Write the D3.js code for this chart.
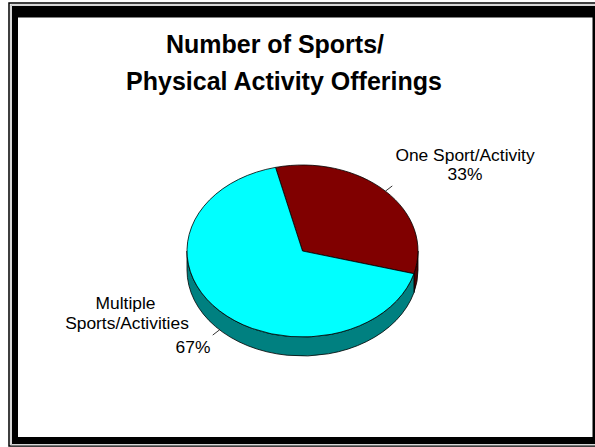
<!DOCTYPE html>
<html>
<head>
<meta charset="utf-8">
<script src="https://cdn.jsdelivr.net/npm/d3@7"></script>
<style>
  html, body { margin: 0; padding: 0; background: #fff; }
  svg { display: block; }
  text { font-family: "Liberation Sans", Arial, Helvetica, sans-serif; fill: #000; }
</style>
</head>
<body>
<script>
// Survey result: how many sports / physical activities are offered
const categories = ["One Sport/Activity", "Multiple Sports/Activities"];
const values = [33, 67];
const percentLabels = ["33%", "67%"];
const titleLines = ["Number of Sports/", "Physical Activity Offerings"];

const W = 595, H = 447;
const svg = d3.select("body").append("svg").attr("width", W).attr("height", H);

// Framed panel: thin outer rule, light inner rule, heavy black border
svg.append("rect").attr("x", 9).attr("y", 3).attr("width", 600).attr("height", 443)
  .attr("fill", "none").attr("stroke", "#000").attr("stroke-width", 1.5);
svg.append("rect").attr("x", 11).attr("y", 5).attr("width", 600).attr("height", 440)
  .attr("fill", "none").attr("stroke", "#b0b0b0").attr("stroke-width", 1);
svg.append("rect").attr("x", 12).attr("y", 6).attr("width", 600).attr("height", 438)
  .attr("fill", "#000");
svg.append("rect").attr("x", 18).attr("y", 17.5).attr("width", 574.5).attr("height", 419.5)
  .attr("fill", "#fff");

// Title
svg.append("g").selectAll("text").data(titleLines).join("text")
  .attr("x", (d, i) => i === 0 ? 275 : 284)
  .attr("y", (d, i) => 53 + i * 37)
  .attr("text-anchor", "middle")
  .attr("font-size", 25)
  .attr("font-weight", "bold")
  .text(d => d);

// 3-D pie geometry (tilted ellipse with a shallow extruded side)
const cx = 302.5, cy = 251, rx = 115.5, ry = 86, depth = 19;
const startAngle = -13.5 * Math.PI / 180;

const pie = d3.pie().sort(null).value(d => d.value)
  .startAngle(startAngle).endAngle(startAngle + 2 * Math.PI);
const arcs = pie(categories.map((c, i) => ({ name: c, value: values[i], pct: percentLabels[i] })));

const topColor = d3.scaleOrdinal().domain(categories).range(["#800000", "#00ffff"]);
const sideColor = d3.scaleOrdinal().domain(categories).range(["#4a0000", "#008080"]);

const pt = (a, dy = 0) => [cx + rx * Math.sin(a), cy - ry * Math.cos(a) + dy];
const fmt = p => p[0].toFixed(2) + "," + p[1].toFixed(2);

// Side walls: only the front half (90°..270°) faces the viewer
const frontA = Math.PI / 2, frontB = 3 * Math.PI / 2;
const sides = [];
arcs.forEach(a => {
  // test the slice in every 2π shift so wrapped ranges are handled
  [-2 * Math.PI, 0, 2 * Math.PI].forEach(shift => {
    const s0 = Math.max(a.startAngle + shift, frontA);
    const s1 = Math.min(a.endAngle + shift, frontB);
    if (s1 > s0) sides.push({ data: a.data, s0, s1 });
  });
});

const g = svg.append("g");
g.selectAll("path.side").data(sides).join("path")
  .attr("class", "side")
  .attr("fill", d => sideColor(d.data.name))
  .attr("stroke", "#000").attr("stroke-width", 0.8).attr("stroke-linejoin", "round")
  .attr("d", d => {
    const p0 = pt(d.s0), p1 = pt(d.s1), q1 = pt(d.s1, depth), q0 = pt(d.s0, depth);
    return `M${fmt(p0)} A${rx},${ry} 0 0 1 ${fmt(p1)} L${fmt(q1)} A${rx},${ry} 0 0 0 ${fmt(q0)} Z`;
  });

// Top faces
g.selectAll("path.top").data(arcs).join("path")
  .attr("class", "top")
  .attr("fill", d => topColor(d.data.name))
  .attr("stroke", "#000").attr("stroke-width", 0.8).attr("stroke-linejoin", "round")
  .attr("d", d => {
    const p0 = pt(d.startAngle), p1 = pt(d.endAngle);
    const large = (d.endAngle - d.startAngle) > Math.PI ? 1 : 0;
    return `M${cx},${cy} L${fmt(p0)} A${rx},${ry} 0 ${large} 1 ${fmt(p1)} Z`;
  });

// Leader lines from each slice's mid-angle rim outward
const mid = d => (d.startAngle + d.endAngle) / 2;
const leaderStart = d => {
  const m = mid(d);
  const front = Math.cos(m) < 0; // rim on front half sits at the bottom of the wall
  return pt(m, front ? depth : 0);
};
g.selectAll("line.leader").data(arcs).join("line")
  .attr("class", "leader")
  .attr("stroke", "#000").attr("stroke-width", 0.8)
  .attr("x1", d => leaderStart(d)[0]).attr("y1", d => leaderStart(d)[1])
  .attr("x2", d => leaderStart(d)[0] + 10 * Math.sin(mid(d)) * 0.95)
  .attr("y2", d => leaderStart(d)[1] - 10 * Math.cos(mid(d)) * 0.75);

// Data labels
const labelFont = 17.4;
const labels = svg.append("g").attr("font-size", labelFont);
// One Sport/Activity
labels.append("text").attr("x", 465).attr("y", 160.5).attr("text-anchor", "middle").text(categories[0]);
labels.append("text").attr("x", 465).attr("y", 180).attr("text-anchor", "middle").text(percentLabels[0]);
// Multiple Sports/Activities (category name wraps onto two lines)
const multi = categories[1].split(" ");
labels.append("text").attr("x", 125.5).attr("y", 309).attr("text-anchor", "middle").text(multi[0]);
labels.append("text").attr("x", 127).attr("y", 329).attr("text-anchor", "middle").text(multi[1]);
labels.append("text").attr("x", 193).attr("y", 353).attr("text-anchor", "middle").text(percentLabels[1]);
</script>
</body>
</html>
